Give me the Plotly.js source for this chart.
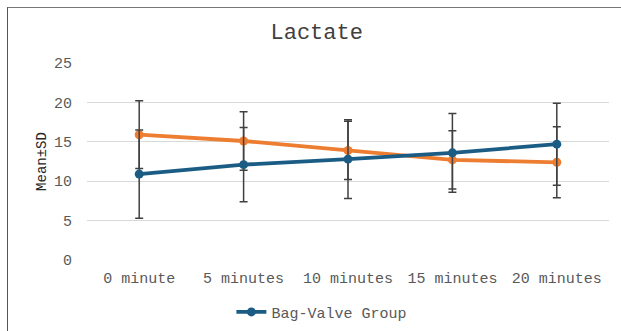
<!DOCTYPE html>
<html>
<head>
<meta charset="utf-8">
<script src="https://cdn.plot.ly/plotly-3.0.1.min.js"></script>
<style>
html,body{margin:0;padding:0;background:#fff;}
#wrap{position:relative;width:621px;height:331px;}
#chart{width:621px;height:331px;}
#frame{position:absolute;left:7px;top:7px;width:620px;height:330px;border-left:1.5px solid #555;border-top:1.5px solid #777;pointer-events:none;}
</style>
</head>
<body>
<div id="wrap"><div id="chart"></div><div id="frame"></div></div>
<script>
const categories = ["0 minute", "5 minutes", "10 minutes", "15 minutes", "20 minutes"];
const bagValveMean = [10.9, 12.1, 12.8, 13.6, 14.7];
const bagValveSD = [5.6, 4.7, 5.0, 5.0, 5.2];
const otherMean = [15.9, 15.1, 13.9, 12.7, 12.4];
const otherSD = [4.3, 3.7, 3.7, 3.7, 4.5];
const otherName = "Other Group";

const font = "'Liberation Mono', 'DejaVu Sans Mono', monospace";

const traces = [
  {
    x: categories, y: otherMean, name: otherName, type: "scatter", mode: "lines+markers",
    showlegend: false,
    line: {color: "#ED7D31", width: 3.8},
    marker: {color: "#ED7D31", size: 9},
    error_y: {type: "data", array: otherSD, visible: true, color: "#404040", thickness: 1.5, width: 4}
  },
  {
    x: categories, y: bagValveMean, name: "Bag-Valve Group", type: "scatter", mode: "lines+markers",
    line: {color: "#1B5C85", width: 3.8},
    marker: {color: "#1B5C85", size: 9},
    error_y: {type: "data", array: bagValveSD, visible: true, color: "#404040", thickness: 1.5, width: 4}
  }
];

const layout = {
  width: 621, height: 331,
  margin: {l: 87, r: 12, t: 63, b: 71, autoexpand: false},
  paper_bgcolor: "#fff", plot_bgcolor: "#fff",
  font: {family: font, color: "#595959", size: 15},
  title: {text: "Lactate", x: 0.51, xanchor: "center", y: 0.905, yanchor: "middle",
          font: {family: font, size: 22, color: "#404040"}},
  xaxis: {type: "category", range: [-0.5, 4.5], showgrid: false, zeroline: false, automargin: false,
          showline: false, ticks: "", ticklabelstandoff: 7, tickfont: {family: font, size: 15, color: "#595959"}},
  yaxis: {range: [0, 25], dtick: 5, showgrid: true, gridcolor: "#D9D9D9", gridwidth: 1.2,
          zeroline: false, showline: false, ticks: "", ticklabelstandoff: 14, automargin: false,
          tickfont: {family: font, size: 15, color: "#595959"},
          title: {text: "Mean±SD", standoff: 4, font: {family: font, size: 14, color: "#262626"}}},
  showlegend: true,
  legend: {orientation: "h", x: 0.45, xanchor: "center", yref: "container", y: 0.057, yanchor: "middle",
           font: {family: font, size: 15, color: "#595959"}, bgcolor: "rgba(0,0,0,0)"}
};

Plotly.newPlot("chart", traces, layout, {displayModeBar: false, staticPlot: true});
</script>
</body>
</html>
